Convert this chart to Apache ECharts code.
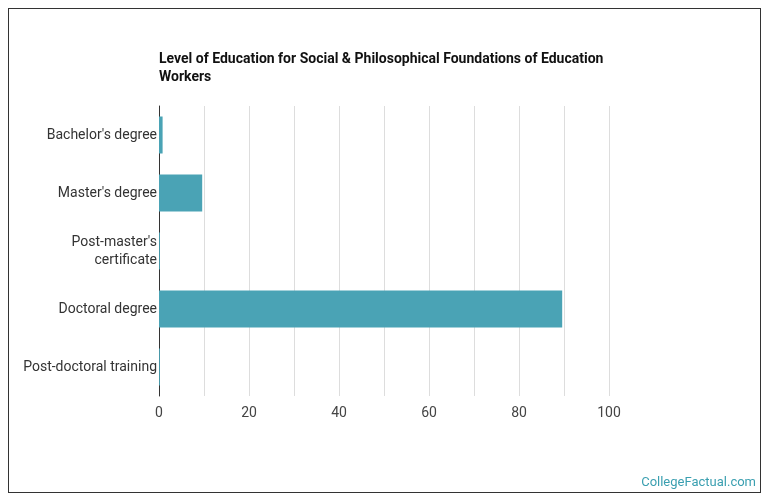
<!DOCTYPE html>
<html>
<head>
<meta charset="utf-8">
<script src="https://cdn.jsdelivr.net/npm/echarts@6/dist/echarts.min.js"></script>
<style>
html,body{margin:0;height:100%;background:#fff}
#frame{position:absolute;left:8px;top:8px;width:753px;height:485px;border:1px solid #333;box-sizing:border-box}
#container{position:absolute;left:0;top:0;width:770px;height:503px}
</style>
</head>
<body>
<div id="frame"></div>
<div id="container"></div>
<script>
const categories = ['Bachelor\'s degree', 'Master\'s degree', 'Post-master\'s\ncertificate', 'Doctoral degree', 'Post-doctoral training'];
const values = [0.8, 9.6, 0.2, 89.6, 0.2];
const xTicks = [0, 20, 40, 60, 80, 100];

const chart = echarts.init(document.getElementById('container'));
chart.setOption({
  animation: false,
  title: {
    text: 'Level of Education for Social & Philosophical Foundations of Education\nWorkers',
    left: 154, top: 45,
    textStyle: {fontFamily: 'Roboto', fontSize: 14, fontWeight: 'bold', color: '#111', lineHeight: 18}
  },
  graphic: [{
    type: 'text', right: 14, bottom: 14,
    style: {text: 'CollegeFactual.com', fill: '#3a9fb0', font: '13px Roboto'}
  }],
  grid: {left: 159, top: 106, width: 450, height: 290},
  xAxis: {
    type: 'value', min: 0, max: 100, interval: 10,
    axisLine: {show: false}, axisTick: {show: false},
    axisLabel: {
      fontFamily: 'Roboto', fontSize: 14, color: '#444', margin: 10,
      formatter: v => xTicks.includes(v) ? String(v) : ''
    },
    splitLine: {lineStyle: {color: '#ddd'}}
  },
  yAxis: {
    type: 'category', data: categories, inverse: true,
    axisLine: {lineStyle: {color: '#333'}}, axisTick: {show: false},
    axisLabel: {fontFamily: 'Roboto', fontSize: 14, color: '#333', margin: 2, lineHeight: 18}
  },
  series: [{
    type: 'bar', data: values, barWidth: 37,
    itemStyle: {color: '#4aa3b5'}
  }]
});
</script>
</body>
</html>
